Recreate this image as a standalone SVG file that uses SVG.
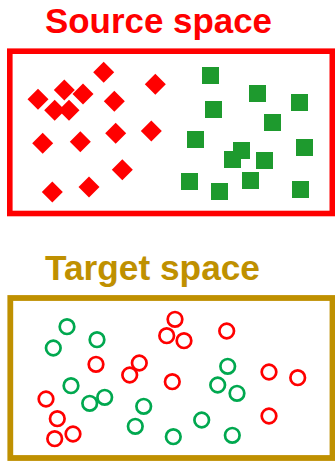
<svg xmlns="http://www.w3.org/2000/svg" width="335" height="461" viewBox="0 0 335 461" xmlns:xlink="http://www.w3.org/1999/xlink">
<style>
.title{font-family:"Liberation Sans",Arial,sans-serif;font-weight:bold;font-size:35px}
.dm{fill:#FF0000}
.sq{fill:#1E9A2E}
.rc{fill:none;stroke:#FF0000;stroke-width:2.7}
.gc{fill:none;stroke:#00A84F;stroke-width:2.7}
</style>
<defs>
<path id="dia" d="M0,-10.5 L10.5,0 L0,10.5 L-10.5,0Z"/>
</defs>
<rect x="0" y="0" width="335" height="461" fill="#FFFFFF"/>
<g id="source">
<text class="title" x="45" y="33" fill="#FF0000" textLength="227" lengthAdjust="spacingAndGlyphs">Source space</text>
<rect x="9.8" y="51.2" width="322.5" height="162.3" fill="none" stroke="#FF0000" stroke-width="5.6"/>
<g class="dm">
<use xlink:href="#dia" x="103.7" y="72.3"/>
<use xlink:href="#dia" x="155.3" y="84.3"/>
<use xlink:href="#dia" x="64.3" y="90"/>
<use xlink:href="#dia" x="83" y="94"/>
<use xlink:href="#dia" x="38" y="99.3"/>
<use xlink:href="#dia" x="114.3" y="101.3"/>
<use xlink:href="#dia" x="54.7" y="110.3"/>
<use xlink:href="#dia" x="69" y="110.3"/>
<use xlink:href="#dia" x="115.7" y="133.3"/>
<use xlink:href="#dia" x="151.3" y="131"/>
<use xlink:href="#dia" x="42.7" y="143.3"/>
<use xlink:href="#dia" x="80.3" y="141.7"/>
<use xlink:href="#dia" x="122.3" y="169.7"/>
<use xlink:href="#dia" x="52.3" y="192"/>
<use xlink:href="#dia" x="89" y="187"/>
</g>
<g class="sq">
<rect x="202" y="67" width="17" height="17"/>
<rect x="249" y="85" width="17" height="17"/>
<rect x="291" y="94" width="17" height="17"/>
<rect x="205" y="101" width="17" height="17"/>
<rect x="264" y="114" width="17" height="17"/>
<rect x="187" y="131" width="17" height="17"/>
<rect x="233" y="142" width="17" height="17"/>
<rect x="224" y="151" width="17" height="17"/>
<rect x="256" y="152" width="17" height="17"/>
<rect x="296" y="139" width="17" height="17"/>
<rect x="181" y="173" width="17" height="17"/>
<rect x="211" y="183" width="17" height="17"/>
<rect x="242" y="172" width="17" height="17"/>
<rect x="292" y="181" width="17" height="17"/>
</g>
</g>
<g id="target">
<text class="title" x="45" y="280" fill="#BF9000" textLength="215" lengthAdjust="spacingAndGlyphs">Target space</text>
<rect x="10.3" y="298" width="322.2" height="160" fill="none" stroke="#BF9000" stroke-width="5.8"/>
<g class="gc">
<circle cx="67" cy="326.7" r="7.3"/>
<circle cx="53.3" cy="348" r="7.3"/>
<circle cx="97" cy="339.7" r="7.3"/>
<circle cx="71" cy="385.7" r="7.3"/>
<circle cx="89.7" cy="403.3" r="7.3"/>
<circle cx="104.7" cy="397.3" r="7.3"/>
<circle cx="143.7" cy="406.3" r="7.3"/>
<circle cx="135.3" cy="426.3" r="7.3"/>
<circle cx="173.3" cy="436.7" r="7.3"/>
<circle cx="227.7" cy="366.3" r="7.3"/>
<circle cx="217.7" cy="385" r="7.3"/>
<circle cx="237" cy="393.3" r="7.3"/>
<circle cx="201.7" cy="420" r="7.3"/>
<circle cx="232.3" cy="435.3" r="7.3"/>
</g>
<g class="rc">
<circle cx="96" cy="364.3" r="7.3"/>
<circle cx="139.3" cy="363" r="7.3"/>
<circle cx="129.7" cy="375" r="7.3"/>
<circle cx="46" cy="399" r="7.3"/>
<circle cx="57.3" cy="418.7" r="7.3"/>
<circle cx="54.7" cy="438.7" r="7.3"/>
<circle cx="73" cy="434" r="7.3"/>
<circle cx="175" cy="319.3" r="7.3"/>
<circle cx="166.7" cy="335.7" r="7.3"/>
<circle cx="184" cy="340.7" r="7.3"/>
<circle cx="226.7" cy="331" r="7.3"/>
<circle cx="172.3" cy="381.7" r="7.3"/>
<circle cx="269" cy="372" r="7.3"/>
<circle cx="297.7" cy="377.7" r="7.3"/>
<circle cx="269" cy="416" r="7.3"/>
</g>
</g>
</svg>
